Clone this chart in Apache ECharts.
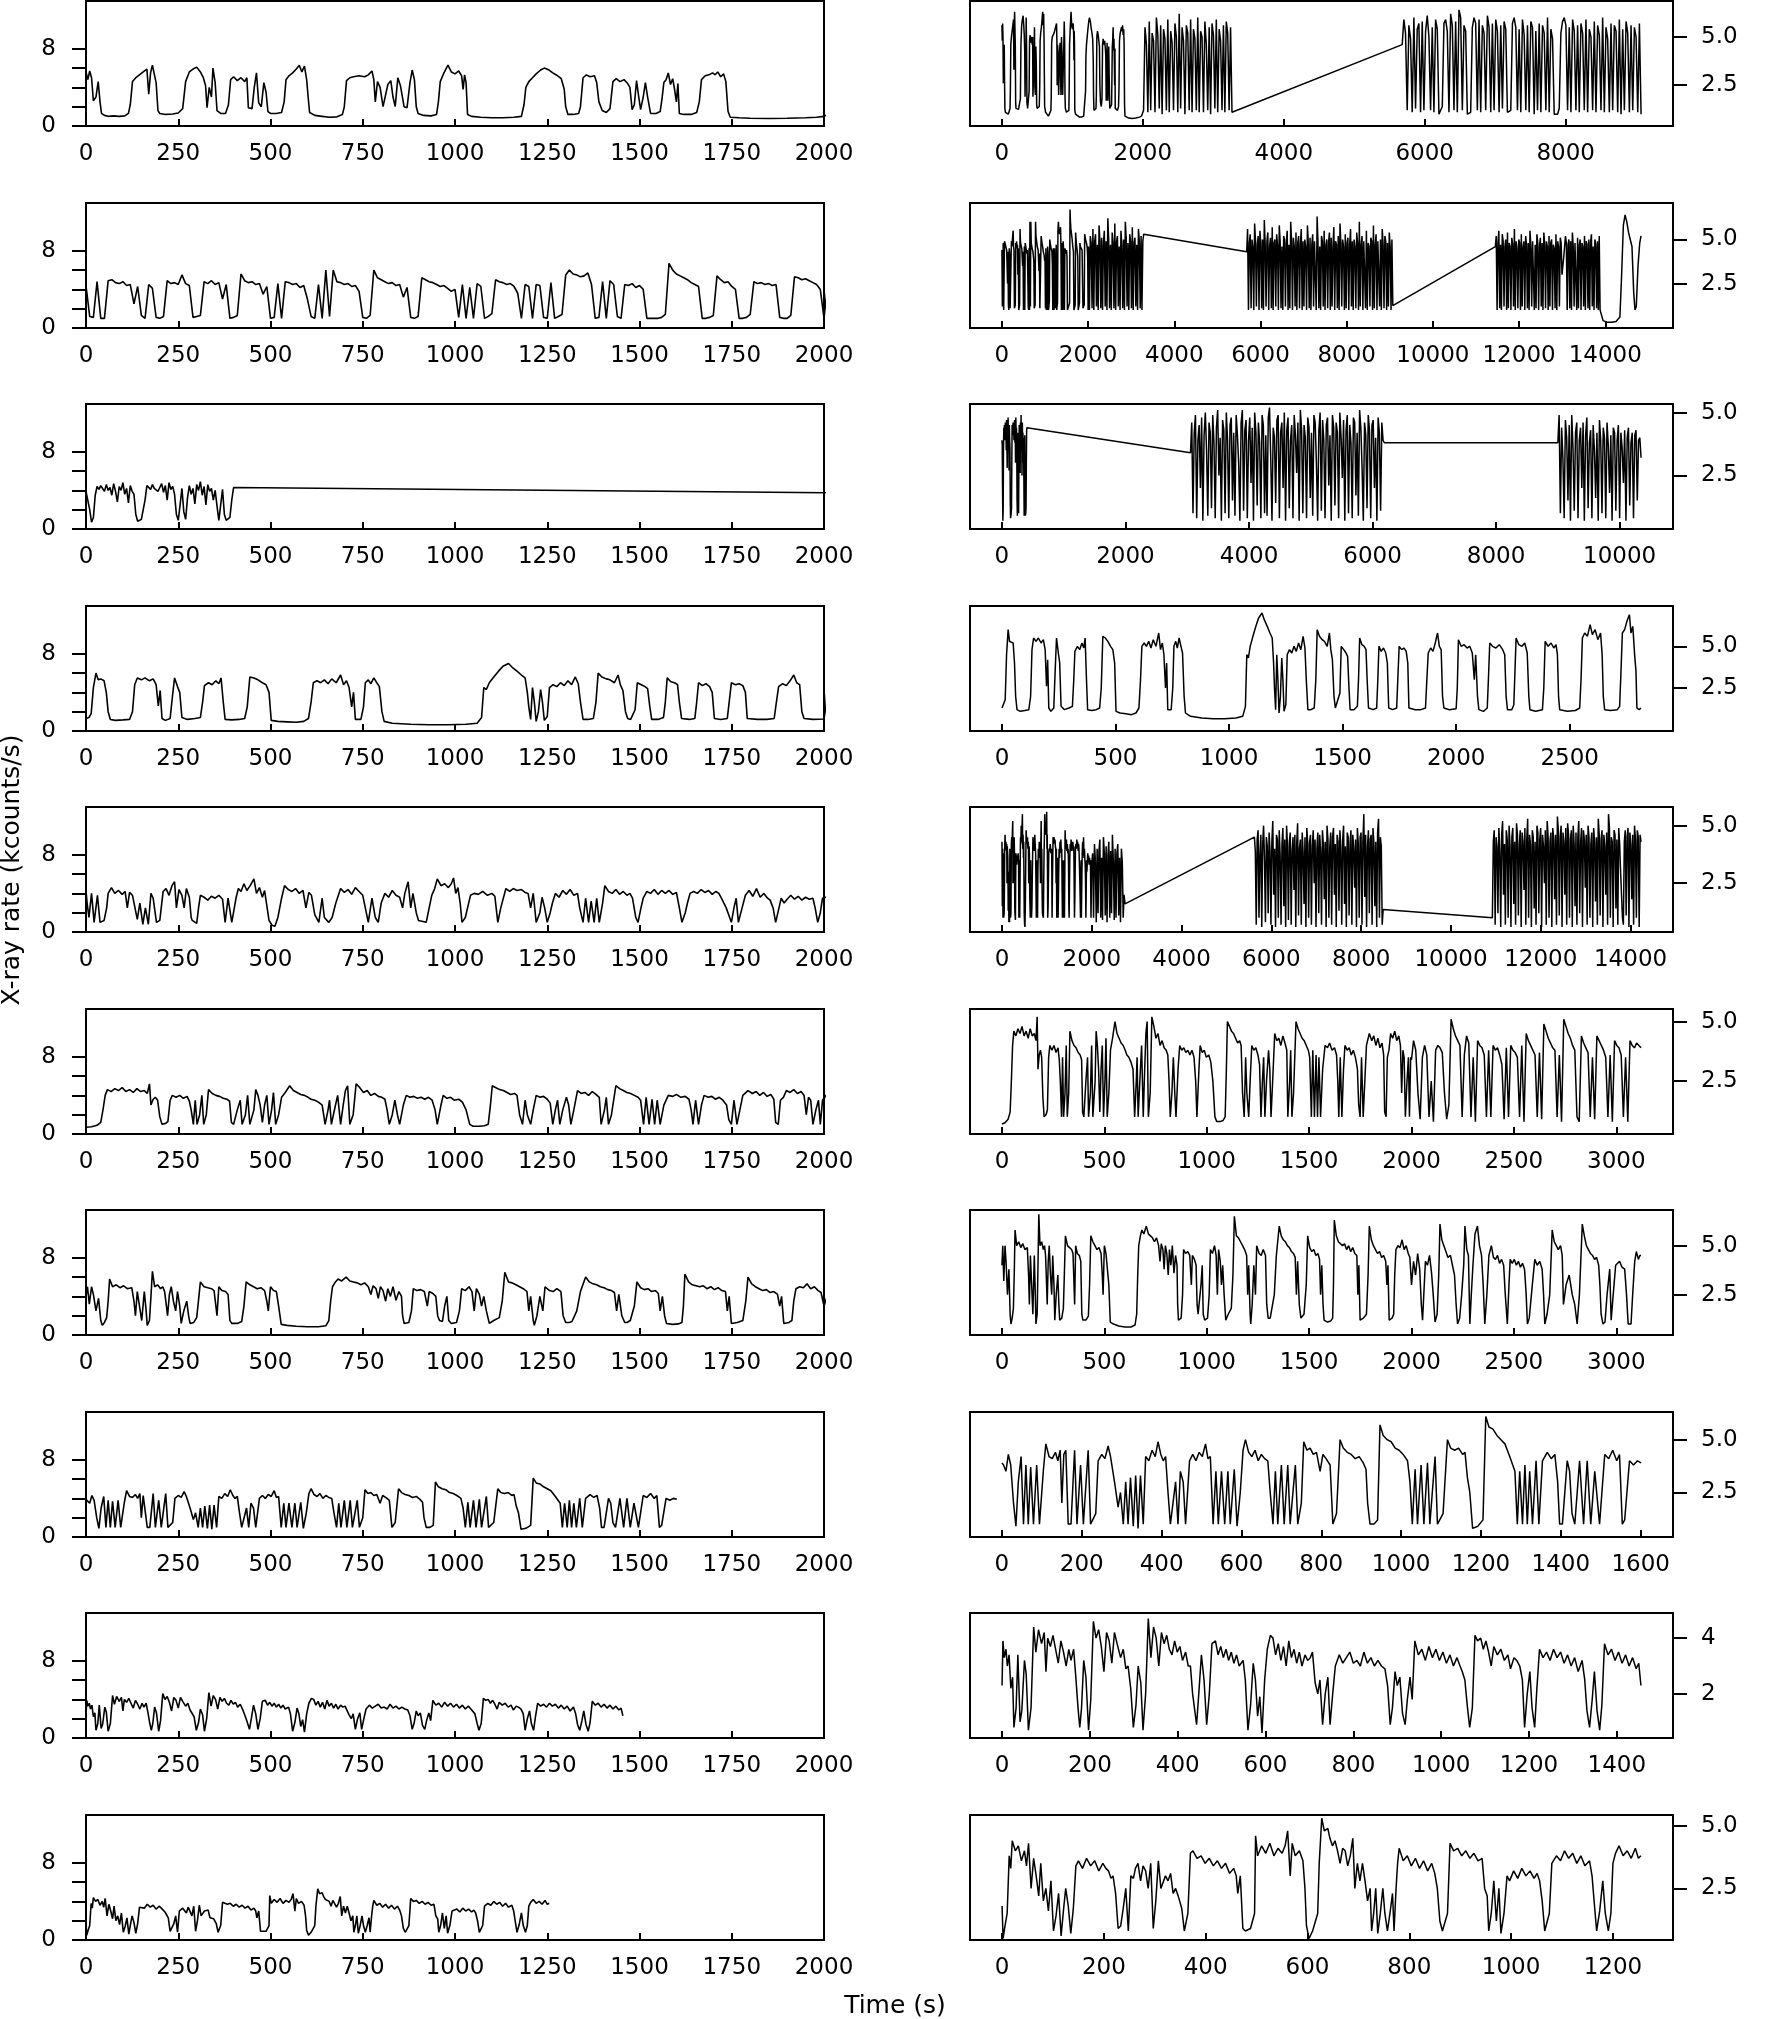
<!DOCTYPE html>
<html><head><meta charset="utf-8">
<script src="https://cdn.jsdelivr.net/npm/echarts@6/dist/echarts.min.js"></script>
<style>html,body{margin:0;padding:0;background:#fff}#c{width:1775px;height:2019px}</style>
</head><body><div id="c"></div>
<script>
// ---------- tick labels ----------
const leftXTicks=[0,250,500,750,1000,1250,1500,1750,2000];
const leftYTicks=[0,2,4,6,8];
const leftYLabels=[0,8];
const leftYRange=[0,12.95];
const rightXTicks=[
 [0,2000,4000,6000,8000],
 [0,2000,4000,6000,8000,10000,12000,14000],
 [0,2000,4000,6000,8000,10000],
 [0,500,1000,1500,2000,2500],
 [0,2000,4000,6000,8000,10000,12000,14000],
 [0,500,1000,1500,2000,2500,3000],
 [0,500,1000,1500,2000,2500,3000],
 [0,200,400,600,800,1000,1200,1400,1600],
 [0,200,400,600,800,1000,1200,1400],
 [0,200,400,600,800,1000,1200]
];
const rightYTicks=[[2.5,5],[2.5,5],[2.5,5],[2.5,5],[2.5,5],[2.5,5],[2.5,5],[2.5,5],[2,4],[2.5,5]];
const rightXRange=[[-453,9523],[-741,15572],[-517,10864],[-141,2955],[-712,14945],[-156,3277],[-156,3277],[-80,1681],[-73,1528],[-63,1318]];
const rightYRange=[[0.39,6.86],[-0.02,7.07],[0.37,5.34],[-0.08,7.42],[0.38,5.81],[0.28,5.53],[0.44,6.82],[0.39,6.31],[0.42,4.9],[0.44,5.43]];

// ---------- row 1 ----------
const r1a=[[0,5.6],[5,4.8],[10,5.7],[15,5.0],[20,2.6],[27,3.0],[33,4.6],[38,2.5],[42,1.3],[50,1.1],[60,1.0],[75,1.05],[90,1.0],[105,1.05],[115,1.3],[120,2.2],[126,4.6],[135,5.0],[145,5.3],[155,5.6],[165,5.9],[170,3.3],[175,5.5],[180,6.3],[186,5.2],[190,4.5],[195,1.6],[200,1.3],[215,1.2],[235,1.25],[250,1.35],[262,1.8],[270,4.6],[280,5.6],[290,5.9],[300,6.1],[310,5.6],[318,5.0],[324,4.2],[328,1.9],[334,4.0],[340,3.0],[344,6.0],[350,4.5],[355,1.6],[365,1.3],[378,1.3],[386,2.2],[392,4.8],[400,5.1],[410,4.7],[420,5.0],[430,4.6],[436,5.0],[440,1.9],[450,1.8],[456,4.0],[462,5.5],[468,2.4],[475,2.0],[482,4.5],[488,3.5],[493,1.5],[500,1.3],[515,1.3],[530,1.4],[537,2.5],[542,4.8],[550,5.2],[560,5.5],[570,5.9],[578,6.3],[585,5.6],[592,6.2],[598,4.8],[602,3.0],[606,1.4],[620,1.1],[640,1.0],[660,0.9],[680,0.95],[695,1.2],[700,2.0],[706,4.7],[715,5.0],[725,5.1],[740,5.2],[755,5.1],[765,5.3],[775,5.7],[780,4.8],[784,2.5],[790,4.6],[797,4.0],[805,2.0],[810,1.9],[818,4.3],[826,4.7],[832,3.0],[838,2.0],[845,5.0],[852,4.2],[862,2.0],[870,1.9],[878,4.5],[884,5.8],[890,4.8],[895,2.0],[900,1.3],[915,1.1],[935,1.05],[950,1.2],[955,2.5],[960,4.6],[970,5.5],[981,6.3],[990,5.6],[1000,5.4],[1010,5.7],[1018,5.2],[1022,3.8],[1026,5.3],[1030,4.5],[1034,1.2],[1045,1.0],[1070,0.9],[1100,0.85],[1130,0.85],[1160,0.9],[1180,1.0],[1187,2.2],[1192,4.0],[1200,4.6],[1210,5.0],[1220,5.4],[1232,5.8],[1242,6.0],[1255,5.8],[1265,5.5],[1278,5.2],[1288,4.9],[1296,3.8],[1300,2.0],[1306,1.2],[1320,1.2],[1335,1.3],[1340,2.0],[1347,5.0],[1356,5.3],[1366,5.1],[1378,5.2],[1384,4.5],[1390,2.5],[1399,1.6],[1410,1.4],[1420,1.8],[1428,4.6],[1437,4.9],[1447,4.6],[1458,4.8],[1468,4.4],[1474,4.0],[1480,1.7],[1486,2.2],[1492,4.7],[1498,3.0],[1503,1.7],[1510,3.0],[1516,4.5],[1522,3.0],[1530,1.3],[1545,1.3],[1556,1.5],[1561,2.8],[1566,4.5],[1572,4.8],[1578,5.5],[1584,4.3],[1590,4.9],[1595,3.8],[1600,2.5],[1604,4.4],[1608,1.3],[1620,1.2],[1640,1.2],[1655,1.4],[1662,2.5],[1668,4.8],[1678,5.2],[1688,5.3],[1698,5.5],[1705,5.3],[1712,5.6],[1720,5.1],[1728,5.4],[1734,4.6],[1740,1.5],[1746,0.9],[1770,0.85],[1800,0.8],[1850,0.78],[1900,0.8],[1950,0.85],[1980,0.9],[2000,1.0]];
const r1b=[2010,3285,[1.2,5.5,4.6,1.1,5.8,1.2,5.2,4.8,1.1,6.0,5.1,1.3,5.6,1.0,5.4,4.9,1.2,5.9,1.1,5.3,4.7,1.2,5.7,5.0,1.1,6.2,1.3,5.5,4.8,1.0,5.6,5.2,1.2,5.9,1.1,5.4,4.9,1.2,6.0,1.1,5.3,5.0,1.1,5.8,4.6,1.2,5.5,1.0,5.7,5.1,1.3,5.9,1.1,5.4,4.8,1.2,5.6,1.1,5.8,5.2,1.2,5.5,1.1,1.0]];
const r1c=[5680,9070,[4.6,5.9,5.2,1.2,5.6,4.9,1.1,6.0,1.3,5.4,5.7,1.1,5.8,1.2,5.3,6.1,5.0,1.2,5.5,1.1,5.9,5.4,1.0,1.1,1.4,5.7,5.9,5.3,1.1,6.2,5.6,1.2,5.8,1.1,6.4,6.0,1.2,5.6,5.3,1.0,0.9,1.1,5.5,6.0,5.7,1.2,5.9,1.1,5.6,5.2,1.2,6.1,5.5,1.1,5.7,1.2,5.9,5.3,1.1,5.6,1.3,5.8,5.4,1.1,1.0,1.2,5.7,6.0,5.5,1.2,5.4,1.1,5.9,5.1,1.2,5.6,1.1,5.8,5.5,1.0,5.3,1.2,5.7,1.1,5.6,5.2,1.2,6.0,1.1,5.4,4.9,1.0,0.95,1.0,1.3,5.2,5.8,6.0,5.6,1.2,5.5,1.1,5.9,5.3,1.2,5.6,1.1,5.7,5.2,1.2,5.9,1.1,5.4,5.0,1.2,5.8,1.1,5.6,5.1,1.2,6.0,1.1,5.5,4.9,1.1,5.7,1.2,5.6,5.3,1.1,5.9,1.0,5.4,1.2,5.8,5.2,1.1,5.6,1.2,5.5,5.0,1.1,5.7,1.0]];

// ---------- row 2 ----------
const r2a=[0,2000,[4.4,1.2,1.1,4.8,1.0,1.0,4.9,5.0,4.7,4.6,4.8,4.4,4.5,2.5,4.3,1.3,1.0,4.5,4.1,1.1,1.0,1.2,4.9,4.6,4.7,4.5,5.5,4.6,4.4,1.1,1.2,1.3,4.8,4.6,4.9,4.5,4.7,3.0,4.5,1.0,1.1,1.3,5.6,4.9,4.7,4.8,4.5,4.6,3.5,4.3,1.0,1.1,4.6,1.0,4.8,4.7,4.5,4.6,4.2,4.4,3.0,1.2,1.0,4.5,1.0,6.0,1.2,6.0,4.8,4.7,4.5,4.6,4.3,4.4,3.8,1.1,1.0,1.3,6.0,5.2,5.0,4.8,4.6,4.7,4.4,4.5,3.2,4.2,1.1,1.0,1.2,5.2,5.0,4.8,4.7,4.5,4.3,4.4,4.1,3.8,4.0,1.1,4.5,1.0,4.2,1.0,4.6,4.3,1.0,1.2,1.5,5.0,4.8,4.7,4.5,4.6,4.3,3.6,1.0,4.5,4.3,1.0,4.5,4.4,1.1,1.0,4.7,1.0,1.2,1.4,5.5,6.0,5.6,5.5,5.3,5.4,5.7,4.5,1.0,1.1,4.8,1.0,4.9,4.5,1.2,1.0,4.5,4.4,4.6,4.2,4.4,4.0,1.0,1.0,1.0,1.0,1.1,1.4,6.7,6.0,5.6,5.4,5.2,5.0,4.7,4.5,4.3,1.0,1.0,1.1,1.3,5.4,5.0,4.7,4.8,4.3,4.0,1.0,1.0,1.1,1.4,4.8,4.6,4.7,4.5,4.6,4.4,4.5,1.1,1.0,1.0,1.3,5.3,5.2,5.0,5.1,4.9,4.7,4.5,4.0,1.0]];
const r2b=[2010,3310,[4.6,1.0,5.2,4.8,1.1,5.6,1.0,4.9,5.3,1.2,4.7,1.0,5.8,4.9,1.1,5.1,1.0,4.8,5.5,1.2,4.9,1.0,6.2,5.0,1.1,4.7,1.0,5.4,4.8,1.1,5.9,1.0,4.9,5.2,1.2,4.6,1.0,5.5,4.7,1.1,5.0,1.0,6.0,5.1,1.2,4.8,1.0,5.3,4.9,1.1,5.7,1.0,4.8,5.1,1.2,4.7,1.0,5.6,4.9,1.1,5.2,1.0,4.9,5.3,5.2]];
const r2c=[5680,9070,[4.3,5.6,1.0,4.8,5.3,1.1,5.0,4.6,1.0,5.9,4.9,1.2,4.7,5.2,1.0,5.5,4.8,1.1,5.0,1.0,6.1,4.7,1.2,4.9,5.4,1.0,4.6,5.1,1.1,5.7,1.0,4.8,5.0,1.2,5.3,4.7,1.0,5.8,4.9,1.1,4.6,1.0,5.2,5.0,1.2,4.8,5.5,1.0,4.7,1.1,6.0,4.9,1.0,5.1,4.6,1.2,5.4,1.0,4.8,5.2,1.1,4.7,5.6,1.0,4.9,1.2,5.0,4.6,1.0,5.8,4.8,1.1,5.1,1.0,4.7,5.3,1.2,4.9,5.0,1.0,6.3,4.8,1.1,4.6,1.0,5.2,4.9,1.2,5.5,1.0,4.7,5.0,1.1,4.8,5.4,1.0,5.1,1.2,4.6,5.7,1.0,4.9,4.7,1.1,5.2,1.0,5.9,4.8,1.2,5.0,4.6,1.0,5.3,1.1,4.8,5.1,1.0,4.7,5.6,1.2,4.9,1.0,5.0,4.6,1.1,5.4,4.8,1.0,6.0,1.2,4.7,5.2,1.0,4.9,5.0,1.1,5.5,1.0,4.8,4.6,1.2,5.1,4.9,1.0,5.8,1.1,4.7,5.3,1.0,4.9,4.8,1.2,5.0,1.0,5.6,4.7,1.1,5.2,4.9,1.0,4.8,1.2,5.4,4.6,1.0,5.0,1.25]];
const r2d=[11450,13880,[4.6,5.2,1.0,4.8,5.5,1.1,4.7,1.0,5.3,4.9,1.2,4.6,5.0,1.0,5.4,1.1,4.8,4.6,1.0,5.1,4.7,1.2,5.6,1.0,4.9,4.5,1.1,5.0,4.8,1.0,5.3,1.2,4.6,4.9,1.0,5.2,4.7,1.1,4.8,1.0,5.5,4.6,1.2,4.9,5.0,1.0,4.7,1.1,5.3,4.8,1.0,4.6,5.1,1.2,4.8,1.0,5.4,4.7,1.1,4.9,4.6,1.0,5.2,1.2,4.8,5.0,1.0,4.7,4.5,1.1,5.3,1.0,4.9,4.6,1.2,5.1,4.8,3.0,3.5,4.0,4.6,5.2,4.8,1.0,4.7,5.0,1.1,4.9,1.0,5.4,4.6,1.2,4.8,4.9,1.0,5.1,1.1,4.7,5.0,1.0,4.8,4.6,1.2,5.2,1.0,4.9,4.7,1.1,5.0,1.0,4.8,5.3,1.2,4.6,1.0,5.0,4.7,1.1,4.9,1.0,5.2,1.0]];
const r2e=[[13900,1.0],[13950,0.4],[14050,0.3],[14150,0.3],[14250,0.35],[14340,0.6],[14380,3.0],[14420,5.8],[14460,6.4],[14500,6.0],[14540,5.4],[14580,5.0],[14620,4.6],[14660,2.0],[14690,1.0],[14720,1.2],[14760,3.5],[14800,4.8],[14830,5.2]];

// ---------- row 3 ----------
const r3a=[0,405,[3.9,3.7,2.0,0.7,1.2,3.5,4.4,4.1,4.5,4.2,3.9,4.6,4.0,4.3,3.5,4.7,3.9,2.8,4.4,4.0,4.8,3.6,4.2,2.7,4.5,3.9,3.6,1.5,0.8,0.9,1.0,1.2,3.0,4.5,4.3,4.1,4.6,4.2,4.4,3.9,4.3,4.7,3.8,4.5,3.0,4.8,4.1,4.4,3.6,1.5,0.9,2.5,4.2,1.8,1.0,3.2,4.5,3.6,4.2,2.6,4.6,4.0,4.9,3.5,4.4,2.5,4.6,3.9,4.2,3.0,4.0,2.4,0.9,2.5,4.1,1.5,0.9,1.0,1.2,3.0,4.3,4.4]];
const r3b=[3053,6190,[3.4,4.6,1.0,4.2,4.9,0.8,3.9,4.5,2.0,4.8,0.7,4.1,5.0,3.5,0.9,4.6,4.2,1.2,4.9,3.8,0.8,4.4,5.1,2.5,4.0,0.7,4.7,4.3,1.0,5.0,3.9,0.8,4.5,4.8,1.5,4.2,0.9,4.9,4.1,3.0,0.7,4.6,5.1,1.1,4.3,4.7,0.8,3.9,4.8,2.2,4.4,0.7,5.0,4.2,1.3,4.6,3.8,0.8,4.9,4.5,1.0,4.1,0.9,4.8,5.2,3.2,0.7,4.4,4.0,1.4,4.7,4.9,0.8,4.2,4.6,2.0,5.0,0.7,4.3,4.8,1.2,3.9,4.5,0.8,4.9,4.1,2.6,4.6,0.7,5.1,4.3,1.0,4.5,4.0,0.8,4.8,4.4,1.6,4.2,0.9,4.9,4.6,3.0,0.7,4.3,5.0,1.1,4.7,3.9,0.8,4.5,4.8,2.1,4.1,0.7,4.9,4.4,1.3,4.6,4.2,0.8,5.0,4.0,2.4,4.7,0.7,4.3,4.9,1.0,4.5,3.8,0.8,4.8,4.6,1.7,4.2,0.9,5.1,4.4,2.8,0.7,4.6,4.1,1.2,4.9,4.3,0.8,4.5,4.7,2.0,4.0,0.7,4.8,4.2,1.1,4.6,3.9,3.8]];
const r3c=[9000,10347,[3.8,4.9,1.0,4.4,3.2,0.8,4.7,4.0,1.5,4.5,0.7,4.9,3.6,1.1,4.2,4.6,0.8,3.9,4.4,2.0,4.6,0.7,4.1,4.8,1.2,3.8,4.3,0.8,4.5,3.5,1.6,4.2,0.7,4.7,3.9,1.0,4.4,4.0,0.8,4.6,3.7,1.8,4.1,0.7,4.4,4.2,1.1,3.9,4.5,0.8,4.2,3.6,2.2,4.3,0.7,4.0,4.4,1.3,3.8,4.2,0.8,4.1,4.3,1.5,3.9,4.0,3.2]];

// ---------- row 4 ----------
const r4=[[0,1.3],[8,1.4],[14,1.8],[20,4.5],[27,6.0],[33,5.3],[40,5.4],[49,5.2],[55,4.0],[60,2.0],[66,1.2],[80,1.1],[100,1.15],[118,1.2],[126,2.0],[132,4.8],[139,5.5],[150,5.3],[160,5.5],[172,5.2],[182,5.4],[190,4.8],[196,2.6],[201,4.2],[206,1.3],[215,1.1],[228,1.3],[234,3.5],[240,5.5],[248,4.6],[254,4.0],[260,1.4],[275,1.2],[295,1.3],[310,1.4],[316,3.0],[321,4.7],[332,5.0],[342,4.8],[352,5.2],[360,4.9],[366,5.5],[372,3.0],[377,1.2],[395,1.15],[415,1.2],[430,1.3],[437,2.5],[444,5.6],[455,5.5],[466,5.3],[478,5.0],[488,4.8],[496,4.0],[502,1.1],[520,1.0],[545,0.95],[570,0.9],[590,1.0],[603,1.3],[610,3.0],[616,5.0],[626,5.2],[636,5.0],[646,5.3],[656,4.9],[666,5.4],[678,5.0],[690,5.8],[698,4.8],[706,5.2],[713,4.5],[720,2.5],[725,4.0],[730,1.2],[745,1.2],[752,2.5],[757,5.0],[765,5.3],[772,4.9],[780,5.5],[788,5.0],[795,4.6],[802,2.0],[808,1.0],[830,0.8],[880,0.7],[930,0.65],[980,0.65],[1030,0.7],[1060,0.8],[1072,1.4],[1078,4.5],[1085,4.3],[1093,5.0],[1105,5.6],[1118,6.2],[1130,6.7],[1145,7.0],[1155,6.6],[1168,6.2],[1180,5.8],[1190,5.5],[1196,4.0],[1200,2.5],[1205,1.2],[1210,4.5],[1215,3.0],[1220,1.0],[1226,2.0],[1232,4.3],[1237,3.0],[1242,1.1],[1250,1.5],[1256,4.5],[1266,4.8],[1276,4.6],[1286,5.0],[1296,4.7],[1306,5.2],[1316,4.8],[1326,5.6],[1334,4.9],[1340,3.0],[1347,1.2],[1360,1.2],[1375,1.3],[1382,3.0],[1388,6.0],[1398,5.6],[1410,5.4],[1420,5.3],[1432,5.0],[1442,5.8],[1448,4.8],[1455,4.2],[1462,2.0],[1468,1.3],[1476,1.2],[1488,2.2],[1494,5.0],[1505,4.8],[1515,4.6],[1522,4.4],[1528,2.5],[1533,1.2],[1550,1.2],[1565,1.4],[1570,3.0],[1575,5.5],[1585,5.1],[1595,5.0],[1603,4.8],[1608,3.0],[1614,1.3],[1635,1.2],[1650,1.3],[1655,3.0],[1660,5.0],[1670,4.7],[1680,4.9],[1690,4.6],[1697,4.0],[1703,1.3],[1720,1.2],[1738,1.3],[1743,3.0],[1749,5.0],[1760,4.8],[1770,4.9],[1780,4.7],[1787,4.0],[1792,1.3],[1820,1.2],[1845,1.2],[1865,1.3],[1871,3.0],[1877,4.6],[1888,4.9],[1898,4.7],[1908,5.2],[1918,5.8],[1926,5.0],[1934,4.8],[1940,2.0],[1946,1.3],[1970,1.2],[2000,1.25],[2005,2.5],[2010,5.4],[2022,5.0],[2035,5.1],[2048,4.9],[2060,5.0],[2071,4.6],[2080,3.0],[2086,4.5],[2094,2.0],[2100,1.2],[2120,1.1],[2137,1.3],[2142,3.0],[2148,5.2],[2160,5.0],[2175,4.9],[2190,5.1],[2205,4.8],[2214,4.5],[2220,2.0],[2226,1.2],[2245,1.2],[2254,1.5],[2259,3.5],[2264,5.5],[2276,5.1],[2290,5.0],[2302,5.2],[2313,4.6],[2320,2.0],[2325,1.2],[2350,1.1],[2380,1.2],[2386,2.5],[2392,5.3],[2405,5.0],[2418,5.2],[2430,4.9],[2440,5.1],[2446,4.5],[2451,2.0],[2456,1.2],[2490,1.1],[2525,1.15],[2544,1.3],[2550,3.0],[2556,5.5],[2566,5.8],[2578,5.6],[2590,6.3],[2600,5.7],[2612,6.0],[2624,5.4],[2636,5.8],[2643,4.5],[2648,2.0],[2654,1.2],[2680,1.15],[2710,1.2],[2720,1.4],[2726,3.5],[2732,5.8],[2742,6.0],[2752,6.5],[2763,6.9],[2770,5.8],[2778,6.2],[2786,4.5],[2792,3.5],[2796,1.3],[2806,1.2],[2814,1.3]];

// ---------- row 5 ----------
const r5a=[[0,4.3],[3,3.0],[8,1.5],[15,4.0],[22,1.0],[31,3.8],[38,1.0],[49,1.2],[56,2.5],[60,4.0],[69,4.6],[78,4.0],[88,4.3],[98,3.9],[106,4.2],[112,2.5],[118,4.1],[126,3.8],[131,3.6],[139,1.3],[146,3.0],[154,0.8],[161,2.5],[169,0.8],[176,4.0],[182,3.5],[191,1.0],[200,1.2],[209,4.2],[217,4.5],[225,3.8],[233,4.8],[240,5.2],[245,2.5],[252,4.4],[260,3.8],[266,2.5],[272,4.5],[280,3.6],[285,1.5],[288,1.2],[300,0.9],[305,2.5],[310,3.8],[320,3.6],[330,3.3],[340,3.7],[350,3.5],[360,3.8],[370,3.4],[377,1.0],[385,3.5],[395,1.0],[402,2.5],[407,3.6],[413,4.5],[420,4.2],[428,5.0],[436,4.3],[445,4.8],[455,5.5],[462,4.0],[470,4.6],[478,3.6],[484,4.3],[489,3.0],[496,1.2],[504,0.7],[512,0.6],[520,1.5],[530,3.5],[538,4.8],[548,4.4],[558,4.2],[568,4.5],[578,4.0],[588,4.3],[596,2.5],[604,4.1],[611,3.8],[620,1.8],[631,1.0],[640,3.5],[646,1.5],[658,1.0],[667,1.5],[677,3.0],[690,4.5],[700,4.1],[710,4.4],[720,3.9],[730,4.6],[740,4.2],[750,3.8],[757,2.5],[765,1.0],[775,3.5],[784,1.5],[792,1.0],[800,3.0],[810,4.0],[820,3.6],[830,4.3],[840,3.8],[850,3.6],[858,2.5],[864,4.0],[873,5.2],[880,2.5],[886,4.0],[895,2.0],[901,1.2],[922,1.0],[930,2.5],[937,3.8],[945,4.5],[952,5.5],[962,4.8],[972,5.0],[982,4.6],[990,5.0],[996,5.6],[1002,4.0],[1008,4.6],[1014,3.0],[1019,1.0],[1028,1.5],[1034,2.5],[1042,3.8],[1052,4.0],[1063,3.9],[1075,4.2],[1088,3.8],[1100,4.0],[1108,3.7],[1116,1.0],[1124,2.5],[1138,4.5],[1148,4.2],[1158,4.5],[1168,4.3],[1180,4.4],[1190,4.1],[1198,4.0],[1205,2.5],[1212,4.0],[1220,1.0],[1230,2.0],[1236,3.6],[1243,2.5],[1250,1.0],[1258,2.0],[1264,3.0],[1272,4.0],[1282,3.6],[1292,4.3],[1302,3.9],[1312,4.4],[1322,3.8],[1332,4.0],[1338,2.5],[1347,1.0],[1354,3.5],[1362,1.0],[1369,3.2],[1377,1.0],[1384,3.5],[1391,1.0],[1400,3.0],[1406,4.8],[1416,4.2],[1426,4.0],[1436,4.4],[1446,3.9],[1456,4.2],[1466,3.8],[1474,4.0],[1481,3.5],[1490,1.5],[1496,1.0],[1504,2.5],[1510,3.5],[1520,4.2],[1530,4.0],[1540,4.4],[1550,3.9],[1560,4.3],[1570,4.0],[1580,4.3],[1590,3.9],[1600,4.1],[1608,2.5],[1615,1.0],[1624,2.0],[1630,3.0],[1637,4.0],[1647,4.2],[1657,4.0],[1667,4.4],[1677,4.1],[1687,4.3],[1697,3.9],[1707,4.2],[1715,4.0],[1722,3.5],[1735,2.5],[1749,1.0],[1756,2.5],[1762,3.5],[1768,1.0],[1778,2.5],[1787,3.8],[1797,4.3],[1807,3.7],[1817,4.5],[1827,3.6],[1837,4.0],[1847,3.5],[1854,3.3],[1862,2.5],[1869,1.0],[1878,2.5],[1884,3.5],[1892,3.0],[1900,3.4],[1910,3.8],[1920,3.4],[1930,3.7],[1940,3.3],[1950,3.6],[1960,3.4],[1970,3.5],[1976,2.5],[1983,1.0],[1990,2.0],[1996,3.5],[2000,3.4]];
const r5b=[2020,2740,[3.8,1.0,4.2,3.5,0.8,4.0,1.2,3.9,4.4,1.0,3.6,0.9,4.5,3.8,1.1,4.1,0.8,3.7,4.3,1.0,3.9,1.2,4.6,3.5,0.9,4.0,1.0,3.8,4.2,1.1,3.6,0.8,4.0,3.4,1.0,2.0,1.6]];
const r5c=[5622,8489,[4.5,3.9,0.7,4.4,4.8,1.0,3.8,4.6,0.6,4.2,5.0,3.5,0.8,4.5,4.1,1.2,4.7,3.9,0.7,4.3,5.2,2.0,4.0,0.6,4.6,4.4,1.0,4.8,3.7,0.7,4.2,4.9,1.5,4.4,0.6,5.0,4.1,0.9,4.3,4.7,0.7,3.9,4.5,2.2,4.6,0.6,4.2,5.1,1.1,4.0,4.4,0.7,4.7,3.8,1.6,4.5,0.6,4.9,4.2,1.0,4.3,4.6,0.7,4.1,4.8,2.5,4.4,0.6,4.0,4.7,1.2,4.6,3.9,0.7,4.8,4.2,1.8,4.3,0.6,5.0,4.4,1.0,4.1,4.7,0.7,4.5,4.9,2.0,4.2,0.6,4.6,4.3,1.3,4.8,4.0,0.7,4.4,5.0,1.6,4.1,0.6,4.7,4.5,1.1,4.2,4.8,0.7,4.6,4.0,2.3,4.4,0.6,4.9,4.2,1.0,4.5,4.7,0.7,4.3,5.5,1.9,4.6,0.6,4.1,4.8,1.2,4.4,4.6,0.7,4.9,4.2,1.5,4.3,0.6,4.7,5.3,1.0,4.5,4.1,0.7,1.36]];
const r5d=[10922,14233,[1.0,4.3,4.8,0.7,4.5,4.1,1.2,4.9,3.9,0.6,4.6,5.2,2.0,4.2,0.7,4.8,4.4,1.0,5.0,4.1,0.6,4.5,4.9,1.6,4.3,0.7,5.1,4.6,1.1,4.2,4.8,0.6,4.7,4.3,2.2,4.9,0.7,4.4,5.3,1.0,4.6,4.2,0.6,4.8,4.5,1.4,4.3,0.7,5.0,4.7,1.2,4.4,4.9,0.6,4.6,4.1,2.5,4.8,0.7,5.2,4.5,1.0,4.3,4.7,0.6,4.9,4.4,1.8,4.6,0.7,5.4,4.8,1.1,4.5,5.0,0.6,4.7,4.3,2.0,4.9,0.7,5.1,4.6,1.0,4.4,4.8,0.6,5.0,4.2,1.5,4.7,0.7,4.5,5.2,1.2,4.3,4.9,0.6,4.8,4.4,2.3,4.6,0.7,5.0,4.5,1.0,4.2,4.7,0.6,4.9,4.3,1.7,4.5,0.7,5.3,4.6,1.1,4.4,4.8,0.6,4.6,4.1,2.0,4.7,0.7,5.5,4.9,1.0,4.5,4.3,0.6,4.8,4.6,1.4,4.4,0.7,4.9,4.2,3.0,2.0,1.0,0.7,4.3,4.8,1.1,4.5,4.9,0.6,4.7,4.2,1.8,4.6,0.7,5.0,4.4,1.0,4.8,4.5,0.6,4.6,4.3]];

// ---------- row 6 ----------
const r6a=[[0,0.7],[15,0.75],[30,0.9],[40,1.2],[46,2.5],[52,4.0],[58,4.6],[68,4.4],[78,4.7],[88,4.5],[98,4.8],[108,4.4],[118,4.6],[128,4.3],[138,4.7],[148,4.4],[158,4.5],[166,4.2],[172,5.2],[176,3.0],[182,3.6],[188,3.8],[194,3.5],[200,1.8],[206,1.0],[216,1.1],[222,1.3],[228,3.5],[234,4.0],[244,3.8],[254,4.0],[264,3.7],[274,3.9],[280,3.4],[285,2.5],[291,1.0],[296,3.5],[301,1.0],[308,2.0],[314,4.0],[319,1.0],[326,2.0],[332,4.6],[342,4.2],[352,4.0],[362,3.9],[372,3.7],[382,3.6],[389,3.4],[394,1.2],[400,1.0],[410,2.5],[418,3.5],[423,1.0],[432,2.0],[438,4.0],[444,1.0],[455,2.5],[460,4.6],[466,4.0],[472,3.0],[478,1.2],[484,3.0],[490,4.0],[496,1.0],[503,2.5],[508,4.3],[514,1.0],[522,2.0],[530,3.8],[540,4.3],[552,5.0],[562,4.5],[572,4.3],[582,4.1],[592,4.0],[602,3.8],[610,3.6],[620,3.5],[630,3.3],[640,3.0],[648,1.0],[656,2.5],[660,3.5],[665,1.0],[675,2.8],[682,4.0],[690,1.0],[697,3.0],[703,4.5],[709,5.0],[715,1.0],[724,2.0],[732,5.2],[742,4.8],[752,4.3],[762,4.5],[772,4.0],[782,4.2],[792,3.9],[802,3.8],[810,3.6],[816,2.5],[822,1.0],[830,2.0],[837,3.5],[844,2.0],[850,1.0],[860,3.0],[868,4.0],[878,3.8],[888,3.9],[898,3.7],[908,3.8],[918,3.6],[928,3.8],[938,3.5],[946,2.5],[952,1.0],[962,3.0],[968,4.0],[978,3.7],[988,3.8],[998,3.5],[1010,3.6],[1020,3.3],[1030,2.5],[1040,1.0],[1049,0.8],[1065,0.8],[1080,0.85],[1090,1.0],[1096,3.0],[1101,5.0],[1111,4.8],[1121,4.6],[1131,4.5],[1141,4.3],[1151,4.1],[1161,4.2],[1168,4.0],[1175,2.0],[1183,1.0],[1190,3.5],[1196,2.0],[1205,1.0],[1212,2.5],[1220,4.0],[1230,3.8],[1240,3.9],[1250,3.6],[1258,3.2],[1265,1.0],[1272,2.5],[1278,3.5],[1284,1.0],[1292,2.5],[1302,3.8],[1308,3.0],[1314,1.0],[1322,2.5],[1332,4.5],[1342,4.2],[1352,4.3],[1362,4.0],[1372,4.4],[1382,4.1],[1391,3.8],[1396,1.0],[1405,2.5],[1410,3.8],[1416,1.0],[1424,2.0],[1436,5.0],[1446,4.7],[1456,4.5],[1466,4.3],[1476,4.2],[1486,4.0],[1496,3.8],[1503,3.5],[1511,1.0],[1518,3.8],[1526,1.0],[1534,3.6],[1541,1.0],[1548,3.5],[1556,1.0],[1566,3.0],[1578,4.0],[1590,3.9],[1600,4.1],[1612,3.8],[1624,3.9],[1634,3.6],[1640,2.5],[1645,1.0],[1652,3.5],[1660,1.0],[1668,3.0],[1675,4.0],[1686,3.8],[1696,3.9],[1706,3.6],[1716,3.8],[1726,3.5],[1736,3.0],[1742,1.5],[1749,1.0],[1756,3.5],[1764,1.0],[1772,2.5],[1780,4.0],[1794,4.5],[1806,4.2],[1816,4.4],[1826,4.0],[1836,4.3],[1846,3.9],[1856,4.1],[1864,3.6],[1869,1.2],[1876,1.0],[1882,3.5],[1890,3.8],[1898,4.5],[1908,4.3],[1918,4.6],[1928,4.2],[1938,4.4],[1946,4.0],[1952,2.0],[1958,3.8],[1964,3.5],[1970,1.0],[1978,2.5],[1985,3.5],[1990,1.0],[1996,3.5],[2000,3.4]];
const r6b=[2010,3121,[4.2,3.8,2.0,0.9,3.5,4.0,3.6,1.0,2.5,0.8,3.8,4.0,3.9,3.7,2.0,0.9,1.5,5.1,4.7,4.4,4.2,4.0,1.0,3.6,4.4,4.1,1.0,3.5,0.8,4.2,4.0,3.9,3.6,1.0,3.8,1.0,4.0,3.8,3.9,3.6,3.2,0.9,3.9,1.0,4.0,3.8,3.7,3.5,1.0,4.0,0.8,4.5,4.2,4.0,3.8,3.6,1.0,3.7,0.9,4.9,4.6,4.3,4.1,3.9,3.8,1.0,3.6,0.8,5.1,4.8,4.5,4.3,4.0,3.8,1.0,0.8,4.4,4.1,3.9,3.7,1.0,3.5,0.9,4.4,4.2,4.0,3.8,3.5,1.0,3.6,0.8,4.2,4.0,3.9,3.6,1.0,3.5,0.8,4.2,4.0,3.9,4.1,4.0,3.9]];

// ---------- row 7 ----------
const r7a=[[0,4.0],[4,5.0],[9,3.2],[15,5.0],[20,4.2],[27,2.5],[34,3.8],[40,1.5],[44,1.0],[50,1.3],[56,1.8],[60,3.5],[64,5.8],[72,5.0],[82,5.2],[92,4.9],[102,5.1],[112,4.8],[124,4.9],[130,3.5],[134,2.0],[139,4.5],[145,3.0],[151,1.5],[158,4.5],[163,2.5],[166,1.0],[172,1.5],[176,4.0],[180,6.6],[186,5.0],[194,5.2],[202,4.8],[208,5.0],[213,4.5],[218,3.0],[221,2.0],[226,4.2],[231,5.0],[237,3.5],[243,2.5],[248,4.5],[254,3.0],[258,1.2],[265,2.5],[273,3.5],[278,2.0],[282,1.2],[292,1.3],[300,1.8],[306,4.0],[310,5.5],[320,5.0],[330,4.9],[340,4.8],[347,4.6],[352,3.0],[355,2.0],[360,5.0],[368,4.6],[378,4.5],[385,4.2],[390,1.5],[395,1.2],[410,1.2],[422,1.4],[428,3.0],[434,5.5],[444,5.2],[454,5.0],[464,4.8],[474,4.9],[484,4.6],[490,3.5],[494,2.5],[500,5.0],[508,4.6],[516,4.5],[522,3.0],[529,1.1],[545,1.0],[570,0.9],[600,0.85],[630,0.85],[650,0.95],[658,1.5],[663,3.5],[668,5.0],[676,5.5],[683,5.8],[693,5.6],[705,6.0],[715,5.6],[725,5.5],[735,5.4],[745,5.2],[755,5.4],[765,5.0],[772,4.2],[778,5.1],[786,4.8],[792,3.8],[798,5.0],[805,4.6],[812,3.5],[818,4.8],[825,4.0],[832,5.0],[840,3.6],[848,4.5],[855,4.0],[858,2.0],[862,1.2],[875,1.3],[882,2.5],[887,4.8],[897,4.6],[907,4.7],[917,4.5],[925,3.0],[930,4.5],[940,4.3],[948,4.0],[953,2.0],[958,1.5],[966,1.4],[972,3.0],[978,4.0],[983,1.5],[990,1.2],[1004,1.3],[1012,2.5],[1018,4.8],[1028,4.6],[1038,5.0],[1046,4.5],[1052,2.5],[1058,4.8],[1066,4.2],[1072,3.0],[1078,4.0],[1085,2.5],[1093,1.2],[1105,1.5],[1120,1.8],[1128,3.5],[1135,6.5],[1145,5.5],[1155,5.4],[1165,5.2],[1175,5.0],[1185,4.8],[1195,4.5],[1200,2.5],[1205,4.0],[1212,1.5],[1215,1.0],[1222,2.0],[1230,4.0],[1238,2.5],[1244,5.0],[1256,4.6],[1266,4.5],[1276,4.8],[1287,4.5],[1293,2.0],[1300,1.3],[1310,1.3],[1317,1.4],[1330,2.5],[1340,4.5],[1354,6.0],[1364,5.5],[1374,5.3],[1384,5.2],[1394,5.0],[1404,4.9],[1414,4.7],[1424,4.6],[1432,4.4],[1438,2.5],[1444,4.2],[1452,2.0],[1460,1.3],[1466,1.3],[1475,1.5],[1486,3.0],[1493,5.5],[1503,4.9],[1513,4.7],[1523,4.8],[1533,4.5],[1543,4.6],[1551,4.3],[1556,2.5],[1562,4.0],[1568,2.0],[1573,1.2],[1590,1.1],[1605,1.15],[1615,1.3],[1619,3.0],[1623,6.3],[1633,5.5],[1643,5.2],[1653,5.1],[1663,5.0],[1673,5.1],[1683,4.8],[1693,5.0],[1703,4.7],[1713,4.9],[1723,4.6],[1733,4.5],[1738,2.5],[1743,4.0],[1749,1.2],[1765,1.3],[1780,1.5],[1788,3.5],[1794,6.0],[1804,5.3],[1814,5.0],[1824,4.8],[1834,4.6],[1844,4.7],[1854,4.4],[1864,4.5],[1874,4.2],[1880,3.0],[1885,4.0],[1891,1.2],[1905,1.3],[1913,1.5],[1918,3.5],[1924,4.8],[1934,5.0],[1944,4.9],[1954,5.3],[1964,4.8],[1974,5.0],[1984,4.6],[1992,4.4],[2000,3.0]];
const r7b=[[2010,4.2],[2020,3.5],[2030,4.6],[2040,3.8],[2048,2.0],[2054,1.2],[2060,2.5],[2068,4.2],[2078,4.0],[2088,4.5],[2098,3.6],[2106,2.5],[2115,1.1],[2125,1.5],[2133,3.5],[2139,6.1],[2148,5.3],[2158,5.0],[2168,4.7],[2178,4.4],[2190,4.5],[2200,4.0],[2210,3.5],[2218,2.0],[2225,1.0],[2235,1.3],[2245,2.5],[2255,4.0],[2261,6.0],[2270,4.8],[2278,4.5],[2285,1.0],[2292,2.5],[2300,4.0],[2310,5.6],[2322,6.0],[2332,5.0],[2342,4.5],[2350,3.0],[2358,1.0],[2368,2.5],[2378,4.5],[2390,5.0],[2400,4.4],[2410,4.3],[2420,4.5],[2430,4.1],[2440,4.3],[2450,4.0],[2458,2.5],[2468,1.0],[2476,3.0],[2482,4.3],[2492,4.1],[2502,4.3],[2512,4.0],[2522,4.2],[2532,3.9],[2542,4.1],[2552,3.8],[2560,2.5],[2566,1.0],[2575,1.3],[2590,3.0],[2602,4.3],[2614,4.0],[2626,4.2],[2638,3.8],[2645,2.5],[2651,1.0],[2662,1.5],[2675,2.5],[2687,5.8],[2697,5.2],[2707,5.0],[2717,4.8],[2728,5.0],[2736,4.5],[2742,2.0],[2755,3.0],[2770,3.5],[2785,2.5],[2797,2.0],[2809,1.0],[2820,2.5],[2834,6.1],[2844,5.5],[2854,5.0],[2864,4.8],[2874,4.6],[2884,4.5],[2894,4.3],[2904,4.4],[2914,4.0],[2920,3.0],[2926,1.5],[2935,1.0],[2945,1.1],[2955,2.5],[2968,3.8],[2975,1.2],[2985,2.5],[2997,4.0],[3005,4.1],[3016,4.2],[3028,3.9],[3041,3.8],[3050,2.5],[3058,1.0],[3072,1.0],[3080,2.5],[3090,4.2],[3098,4.7],[3108,4.3],[3115,4.5],[3121,4.5]];

// ---------- row 8 ----------
const r8=[[0,3.9],[4,3.8],[10,3.5],[16,4.3],[22,3.8],[29,2.0],[35,0.9],[41,3.0],[48,4.2],[54,1.0],[60,3.8],[66,1.0],[72,3.7],[79,1.0],[87,3.8],[94,1.0],[104,3.6],[110,4.8],[118,4.2],[126,4.1],[134,4.4],[140,4.0],[146,4.5],[150,2.0],[155,4.3],[160,4.5],[166,1.0],[173,1.0],[182,4.5],[188,1.0],[197,3.8],[204,1.0],[216,4.5],[222,1.0],[235,1.5],[241,4.0],[250,4.3],[258,4.1],[266,4.7],[272,4.2],[282,3.0],[291,1.8],[297,2.5],[304,1.0],[310,3.0],[316,1.0],[322,3.2],[329,0.9],[335,3.3],[341,0.8],[347,3.3],[354,1.0],[360,4.2],[368,4.0],[376,4.5],[384,4.2],[391,4.9],[398,4.3],[404,4.0],[410,4.2],[416,2.5],[422,1.0],[435,3.0],[441,1.0],[447,3.5],[454,3.0],[460,1.0],[470,4.0],[478,4.3],[486,4.0],[494,4.4],[502,4.2],[510,4.8],[516,4.1],[522,4.2],[529,1.0],[536,3.5],[542,1.0],[550,3.5],[558,1.0],[566,3.5],[572,1.0],[582,3.6],[589,0.9],[597,2.5],[604,4.5],[610,5.0],[618,4.4],[626,4.2],[634,4.5],[642,4.0],[650,4.3],[658,4.1],[666,4.0],[672,2.5],[679,1.0],[685,3.5],[691,1.0],[700,3.8],[707,1.0],[716,3.8],[722,1.0],[735,3.8],[741,1.0],[750,2.0],[756,4.9],[764,4.5],[772,4.6],[780,4.3],[788,4.4],[797,3.5],[804,4.3],[812,4.1],[822,3.8],[829,1.0],[838,1.5],[847,5.0],[855,4.6],[865,4.4],[875,4.3],[885,4.1],[895,4.2],[905,3.9],[912,3.6],[916,2.0],[922,1.0],[932,1.0],[941,1.2],[947,5.7],[955,5.2],[965,5.0],[975,4.9],[985,4.6],[995,4.5],[1005,4.3],[1016,4.0],[1022,3.0],[1028,1.0],[1035,3.6],[1041,1.0],[1050,3.8],[1057,1.0],[1066,3.9],[1072,1.0],[1085,4.2],[1091,1.0],[1105,1.5],[1116,5.0],[1124,4.6],[1134,4.5],[1144,4.6],[1154,4.3],[1160,4.4],[1166,3.2],[1172,2.5],[1179,0.8],[1192,0.9],[1205,1.2],[1212,6.1],[1220,5.6],[1230,5.5],[1240,5.2],[1250,5.0],[1260,4.8],[1272,4.2],[1285,3.5],[1291,1.0],[1297,3.5],[1304,1.0],[1310,3.8],[1316,1.0],[1322,3.5],[1329,1.0],[1338,4.0],[1345,1.0],[1354,4.0],[1366,4.4],[1376,4.1],[1385,4.3],[1392,3.0],[1397,1.0],[1404,1.0],[1416,4.0],[1422,3.5],[1428,1.5],[1435,1.0],[1447,4.0],[1457,1.0],[1466,4.0],[1475,1.0],[1485,3.5],[1497,1.0],[1510,4.3],[1520,4.1],[1530,4.5],[1540,4.0],[1547,4.3],[1554,1.0],[1560,1.2],[1572,4.0],[1582,3.8],[1592,4.0],[1601,3.9]];

// ---------- row 9 ----------
const r9=[[0,2.3],[2,3.9],[5,3.3],[9,3.6],[12,3.0],[16,3.4],[20,2.2],[24,2.6],[27,0.8],[32,1.5],[36,3.4],[41,1.0],[45,1.4],[51,3.2],[55,2.7],[60,0.7],[66,1.5],[72,4.4],[77,3.5],[83,4.3],[90,3.8],[96,4.2],[100,2.8],[104,4.0],[110,3.7],[116,4.1],[122,3.6],[128,3.1],[134,3.9],[140,3.5],[146,3.0],[152,3.6],[157,3.2],[163,3.6],[168,2.6],[173,1.5],[177,0.8],[181,1.5],[186,3.2],[191,2.6],[197,0.7],[202,1.8],[208,4.6],[214,4.0],[220,4.3],[226,3.7],[232,2.8],[238,4.2],[244,3.9],[250,3.1],[256,4.2],[262,3.8],[270,3.3],[276,3.6],[282,2.9],[287,3.0],[293,2.2],[299,0.8],[305,1.6],[310,3.0],[316,2.4],[321,0.7],[327,2.0],[333,4.7],[339,3.3],[345,4.4],[351,4.0],[357,3.0],[363,4.2],[369,3.8],[375,4.1],[381,3.6],[387,3.4],[393,3.9],[399,3.5],[405,3.7],[411,3.2],[418,3.5],[424,3.0],[429,3.0],[434,2.0],[443,0.9],[448,2.0],[454,3.4],[460,2.5],[466,0.9],[472,2.0],[478,3.8],[486,3.9],[492,3.4],[498,3.7],[504,3.3],[510,3.6],[516,3.2],[522,3.5],[528,3.1],[534,3.4],[540,3.0],[549,3.2],[554,2.5],[560,0.7],[566,1.6],[572,3.1],[577,2.5],[582,1.2],[587,1.9],[592,0.6],[598,2.5],[604,3.6],[611,4.1],[617,4.0],[623,3.4],[629,3.8],[635,3.2],[641,3.7],[647,3.0],[653,3.9],[659,3.3],[665,3.6],[671,3.1],[677,3.5],[683,3.0],[690,3.4],[696,3.2],[702,3.3],[707,3.5],[713,2.4],[719,2.0],[724,2.5],[730,0.9],[736,2.0],[742,2.6],[747,0.9],[753,2.0],[759,3.0],[768,3.4],[776,3.1],[784,3.3],[792,3.5],[800,3.1],[808,3.2],[816,3.0],[824,3.5],[832,3.1],[840,3.3],[848,3.0],[856,3.2],[864,3.0],[872,2.9],[878,2.3],[884,0.9],[889,1.5],[895,2.8],[900,2.3],[906,2.6],[912,1.3],[918,0.9],[923,1.8],[929,2.6],[934,1.8],[940,3.9],[948,3.4],[956,3.6],[964,3.2],[972,3.7],[980,3.3],[988,3.6],[996,3.2],[1004,3.5],[1012,3.1],[1020,3.4],[1028,3.0],[1036,3.3],[1043,3.0],[1048,2.8],[1054,2.5],[1060,1.5],[1065,0.8],[1071,1.5],[1077,4.1],[1083,3.9],[1090,4.0],[1096,3.6],[1102,3.9],[1108,3.5],[1114,3.0],[1120,3.7],[1128,3.4],[1136,3.6],[1144,3.2],[1152,3.4],[1158,2.9],[1166,3.3],[1172,3.2],[1179,3.0],[1185,2.5],[1190,0.8],[1196,2.0],[1202,2.8],[1207,1.5],[1213,0.8],[1218,2.2],[1224,3.6],[1232,3.3],[1240,3.5],[1248,3.2],[1256,3.6],[1264,3.3],[1272,3.5],[1280,3.1],[1288,3.4],[1296,3.0],[1304,3.3],[1312,2.8],[1321,3.2],[1327,2.5],[1332,1.4],[1338,0.8],[1344,1.8],[1349,2.8],[1355,1.4],[1361,0.7],[1366,1.6],[1372,3.8],[1380,3.4],[1388,3.6],[1396,3.2],[1404,3.5],[1412,3.1],[1420,3.4],[1428,3.0],[1436,3.3],[1444,2.9],[1450,3.1],[1455,2.3]];

// ---------- row 10 ----------
const r10=[[0,1.8],[2,0.5],[5,0.9],[10,1.5],[14,3.8],[17,3.3],[20,4.4],[26,4.0],[32,4.2],[38,3.6],[44,4.0],[48,3.4],[52,4.3],[57,2.5],[62,3.7],[67,3.0],[72,2.2],[76,3.5],[81,2.0],[86,2.5],[91,1.6],[96,2.8],[101,0.8],[106,1.4],[111,2.3],[116,0.6],[121,1.7],[125,2.5],[130,1.8],[135,0.7],[140,1.7],[145,3.4],[150,3.6],[158,3.3],[166,3.7],[174,3.4],[182,3.6],[190,3.2],[198,3.5],[204,3.3],[209,3.2],[214,2.9],[218,3.0],[223,2.3],[228,0.9],[233,1.0],[238,1.7],[243,2.5],[248,0.8],[253,3.0],[258,2.9],[262,3.3],[267,3.5],[272,2.8],[277,3.4],[282,3.2],[287,2.5],[292,3.5],[297,0.9],[302,2.0],[307,3.6],[312,2.5],[321,3.0],[326,2.8],[331,3.1],[336,2.3],[341,2.5],[346,2.2],[353,1.7],[358,0.8],[365,1.5],[370,3.9],[375,4.0],[383,3.7],[391,3.8],[399,3.5],[407,3.7],[415,3.4],[423,3.6],[431,3.3],[439,3.5],[447,3.1],[455,3.3],[460,3.0],[463,2.3],[468,3.0],[473,0.9],[478,0.8],[488,0.9],[496,1.5],[498,4.6],[502,3.8],[510,4.2],[518,3.9],[526,4.3],[534,3.8],[542,4.1],[550,3.9],[556,4.2],[561,4.8],[566,3.0],[570,4.3],[576,3.8],[584,4.0],[591,3.6],[595,2.5],[598,1.0],[603,0.5],[610,0.8],[620,1.5],[623,3.5],[628,5.3],[633,4.8],[640,4.9],[644,4.5],[649,4.2],[654,4.4],[659,4.0],[664,3.5],[669,4.1],[674,4.0],[679,3.4],[684,3.8],[689,4.5],[693,2.5],[698,3.5],[703,2.8],[708,3.5],[713,2.8],[718,2.0],[723,2.5],[726,0.8],[730,1.5],[734,2.5],[738,0.7],[743,1.5],[748,2.5],[752,1.5],[757,0.8],[762,1.5],[767,2.3],[770,0.8],[774,2.5],[777,3.5],[780,4.1],[788,3.6],[796,3.8],[804,3.4],[812,3.7],[820,3.3],[828,3.6],[836,3.2],[844,3.5],[850,3.1],[855,2.5],[860,1.2],[865,0.8],[875,1.5],[880,4.3],[887,4.0],[895,4.1],[903,3.8],[911,4.0],[919,3.7],[927,3.9],[935,3.6],[943,3.7],[948,2.5],[953,2.2],[956,0.8],[961,1.5],[966,2.8],[971,1.2],[976,2.5],[980,0.7],[986,1.5],[992,3.0],[997,2.8],[1005,3.2],[1013,2.9],[1021,3.3],[1029,3.0],[1037,3.2],[1045,2.9],[1051,3.1],[1056,2.8],[1061,2.0],[1066,0.8],[1075,1.5],[1080,3.5],[1089,3.8],[1097,3.6],[1105,4.0],[1113,3.7],[1121,3.9],[1129,3.5],[1137,3.8],[1145,3.4],[1154,3.6],[1159,3.0],[1163,2.0],[1168,0.8],[1174,1.6],[1180,2.8],[1185,1.5],[1191,0.8],[1196,1.5],[1200,3.5],[1205,3.9],[1212,4.2],[1220,3.8],[1228,4.0],[1236,3.7],[1244,4.1],[1250,3.7],[1255,3.8]];

// ---------- assemble ----------
function spread(seg){const t0=seg[0],t1=seg[1],v=seg[2];const dt=(t1-t0)/(v.length-1);return v.map((y,i)=>[t0+i*dt,y]);}
const rows=[
 [...r1a,...spread(r1b),...spread(r1c)],
 [...spread(r2a),...spread(r2b),...spread(r2c),...spread(r2d),...r2e],
 [...spread(r3a),...spread(r3b),...spread(r3c)],
 r4,
 [...r5a,...spread(r5b),...spread(r5c),...spread(r5d)],
 [...r6a,...spread(r6b)],
 [...r7a,...r7b],
 r8, r9, r10
];

const FONT='DejaVu Sans';
const chart=echarts.init(document.getElementById('c'),null,{renderer:'canvas',width:1775,height:2019});
const grids=[],xAxes=[],yAxes=[],series=[];
const PITCH=201.5, TOP0=1, H=125;
const LX=86, LW=738, RX=970, RW=703;
const labelStyle={fontFamily:FONT,fontSize:23,color:'#000'};
for(let r=0;r<10;r++){
  const top=Math.round(TOP0+PITCH*r);
  // left panel
  let gi=grids.length;
  grids.push({left:LX,top:top,width:LW,height:H,show:true,borderColor:'#000',borderWidth:2,backgroundColor:'transparent',containLabel:false,outerBoundsMode:'none'});
  xAxes.push({gridIndex:gi,type:'value',min:0,max:2000,
    axisLine:{show:true,onZero:false,lineStyle:{color:'#000',width:2}},
    axisTick:{show:true,inside:true,length:7,lineStyle:{color:'#000',width:2},customValues:leftXTicks},
    axisLabel:{show:true,...labelStyle,margin:17,customValues:leftXTicks,formatter:v=>String(v)},
    splitLine:{show:false}});
  yAxes.push({gridIndex:gi,type:'value',position:'left',min:leftYRange[0],max:leftYRange[1],
    axisLine:{show:true,onZero:false,lineStyle:{color:'#000',width:2}},
    axisTick:{show:true,inside:false,length:14,lineStyle:{color:'#000',width:2},customValues:leftYTicks},
    axisLabel:{show:true,...labelStyle,margin:30,align:'right',customValues:leftYLabels,formatter:v=>String(v)},
    splitLine:{show:false}});
  series.push({type:'line',xAxisIndex:gi,yAxisIndex:gi,data:rows[r],showSymbol:false,symbol:'none',clip:true,silent:true,
    lineStyle:{color:'#000',width:1.6},animation:false});
  // right panel
  gi=grids.length;
  grids.push({left:RX,top:top,width:RW,height:H,show:true,borderColor:'#000',borderWidth:2,backgroundColor:'transparent',containLabel:false,outerBoundsMode:'none'});
  const dec=(r===8)?0:1;
  xAxes.push({gridIndex:gi,type:'value',min:rightXRange[r][0],max:rightXRange[r][1],
    axisLine:{show:true,onZero:false,lineStyle:{color:'#000',width:2}},
    axisTick:{show:true,inside:true,length:7,lineStyle:{color:'#000',width:2},customValues:rightXTicks[r]},
    axisLabel:{show:true,...labelStyle,margin:17,customValues:rightXTicks[r],formatter:v=>String(v)},
    splitLine:{show:false}});
  yAxes.push({gridIndex:gi,type:'value',position:'right',min:rightYRange[r][0],max:rightYRange[r][1],
    axisLine:{show:true,onZero:false,lineStyle:{color:'#000',width:2}},
    axisTick:{show:true,inside:false,length:14,lineStyle:{color:'#000',width:2},customValues:rightYTicks[r]},
    axisLabel:{show:true,...labelStyle,margin:28,align:'left',customValues:rightYTicks[r],formatter:v=>Number(v).toFixed(dec)},
    splitLine:{show:false}});
  series.push({type:'line',xAxisIndex:gi,yAxisIndex:gi,data:rows[r],showSymbol:false,symbol:'none',clip:true,silent:true,
    lineStyle:{color:'#000',width:1.5},animation:false});
}
chart.setOption({
  animation:false,
  backgroundColor:'#fff',
  textStyle:{fontFamily:FONT},
  grid:grids,xAxis:xAxes,yAxis:yAxes,series:series,
  graphic:[
    {type:'text',x:12,y:870,rotation:Math.PI/2,style:{text:'X-ray rate (kcounts/s)',fontFamily:FONT,fontSize:25,fill:'#000',textAlign:'center',textVerticalAlign:'middle'}},
    {type:'text',x:895,y:2006,style:{text:'Time (s)',fontFamily:FONT,fontSize:25,fill:'#000',textAlign:'center',textVerticalAlign:'middle'}}
  ]
});
</script>
</body></html>
